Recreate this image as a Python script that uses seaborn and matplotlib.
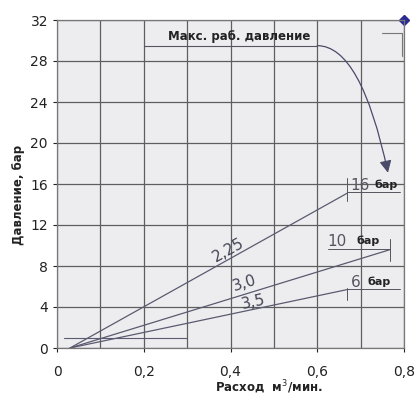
import numpy as np
import pandas as pd
import matplotlib
matplotlib.use("Agg")
import matplotlib.pyplot as plt
import seaborn as sns

# ---- data ----
flow_225 = [0.03, 0.669]
press_225 = [0.0, 15.1]
flow_30 = [0.03, 0.768]
press_30 = [0.0, 9.6]
flow_35 = [0.03, 0.669]
press_35 = [0.0, 5.7]
curve_labels = ["2,25", "3,0", "3,5"]
bar_labels = ["16", "10", "6"]
bar_unit = "бар"
max_label = "Макс. раб. давление"
xticks = [0, 0.2, 0.4, 0.6, 0.8]
xtick_labels = ["0", "0,2", "0,4", "0,6", "0,8"]
yticks = [0, 4, 8, 12, 16, 20, 24, 28, 32]
base_flow = [0.015, 0.3]
base_press = [1.0, 1.0]
max_point_flow = [0.8]
max_point_press = [32]

df = pd.concat([
    pd.DataFrame({"flow": flow_225, "press": press_225, "ratio": curve_labels[0]}),
    pd.DataFrame({"flow": flow_30, "press": press_30, "ratio": curve_labels[1]}),
    pd.DataFrame({"flow": flow_35, "press": press_35, "ratio": curve_labels[2]}),
])

sns.set_theme(style="whitegrid")
plt.rcParams['font.family'] = ['DejaVu Sans']

fig = plt.figure(figsize=(4.16, 3.96), dpi=100)
ax = fig.add_axes([57/416, 1-348/396, 347/416, 328/396])
ax.set_facecolor("#ededf0")
fig.patch.set_facecolor("white")

line_col = "#5a5a70"
sns.lineplot(data=df, x="flow", y="press", units="ratio", estimator=None,
             color=line_col, lw=0.9, ax=ax, legend=False, sort=False)
ax.plot(base_flow, base_press, color=line_col, lw=0.8)

ax.set_xlim(0, 0.8)
ax.set_ylim(0, 32)
ax.set_xticks(xticks)
ax.set_xticklabels(xtick_labels)
ax.set_xticks(np.arange(0, 0.81, 0.1), minor=True)
ax.set_yticks(yticks)
ax.grid(True, which="both", color="#5e5e5e", lw=0.9)
ax.tick_params(axis="both", which="major", labelsize=10, colors="#222222",
               length=3, width=0.8, direction="out", left=True, bottom=True)
ax.tick_params(axis="x", which="minor", length=0)
ax.tick_params(axis="x", pad=9)
for s in ax.spines.values():
    s.set_color("#777777")
    s.set_linewidth(0.9)

ax.set_xlabel("")
ax.set_ylabel("")
fig.text(269/416, 1-387/396, "Расход  м$^3$/мин.", ha="center", va="center",
         fontsize=8.5, fontweight="bold", color="#222222")
fig.text(19/416, 1-195/396, "Давление, бар", ha="center", va="center",
         rotation=90, fontsize=8.5, fontweight="bold", color="#222222")

# curve labels rotated along the lines
fig.canvas.draw()
def angle(xs, ys):
    p = ax.transData.transform(np.column_stack([xs, ys]))
    return np.degrees(np.arctan2(p[-1, 1]-p[0, 1], p[-1, 0]-p[0, 0]))

lab_pos = [(0.395, 9.6), (0.433, 6.3), (0.452, 4.5)]
for lbl, (x, y), (xs, ys) in zip(curve_labels, lab_pos,
                                 [(flow_225, press_225), (flow_30, press_30), (flow_35, press_35)]):
    ax.text(x, y, lbl, rotation=angle(xs, ys), rotation_mode="anchor",
            ha="center", va="center", fontsize=11, color="#444455")

# bar annotations with leader lines
lc = "#555560"
ax.plot([0.669, 0.79], [15.2, 15.2], color=lc, lw=0.7)
ax.plot([0.669, 0.669], [14.3, 16.6], color=lc, lw=0.7)
ax.plot([0.625, 0.768], [9.65, 9.65], color=lc, lw=0.7)
ax.plot([0.768, 0.768], [8.5, 10.6], color=lc, lw=0.7)
ax.plot([0.669, 0.79], [5.75, 5.75], color=lc, lw=0.7)
ax.plot([0.669, 0.669], [4.7, 5.9], color=lc, lw=0.7)

num_pos = [(0.699, 15.85), (0.645, 10.35), (0.689, 6.35)]
unit_pos = [(0.758, 15.95), (0.718, 10.45), (0.742, 6.45)]
for n, (x, y), (ux, uy) in zip(bar_labels, num_pos, unit_pos):
    ax.text(x, y, n, ha="center", va="center", fontsize=11, color="#555560")
    ax.text(ux, uy, bar_unit, ha="center", va="center", fontsize=8,
            fontweight="bold", color="#222222")

# max working pressure annotation
ax.text(0.42, 30.35, max_label, ha="center", va="center", fontsize=8.5,
        fontweight="bold", color="#222222")
ax.plot([0.2, 0.6], [29.5, 29.5], color=lc, lw=0.8)
ax.annotate("", xy=(0.763, 17.1), xytext=(0.6, 29.5),
            arrowprops=dict(arrowstyle="-|>,head_length=0.6,head_width=0.3",
                            color="#4a4a6a", lw=0.9,
                            connectionstyle="angle3,angleA=0,angleB=102",
                            shrinkA=0, shrinkB=0))

# top-right marker and corner
ax.plot([0.75, 0.795], [30.7, 30.7], color="#777777", lw=0.8, clip_on=False)
ax.plot([0.795, 0.795], [30.7, 28.5], color="#777777", lw=0.8, clip_on=False)
ax.plot(max_point_flow, max_point_press, marker="D", ms=5, color="#2a2a90",
        clip_on=False, ls="none")

fig.savefig("out.png", dpi=100)
